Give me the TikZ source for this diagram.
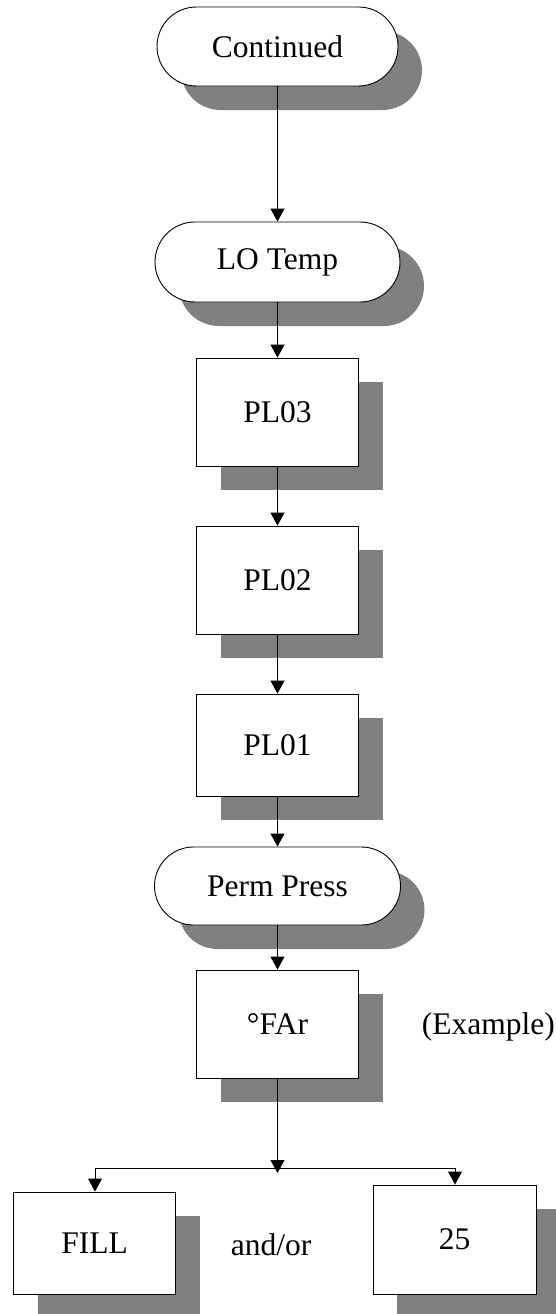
\documentclass[tikz,border=0pt]{standalone}
\usepackage{fontspec}
\setmainfont{Liberation Serif}
\usetikzlibrary{shapes.misc,shadows,arrows.meta}
\definecolor{shadowgray}{HTML}{808080}
\tikzset{
  base/.style={draw=black, line width=0.9pt, fill=white, inner sep=0pt,
    font=\fontsize{31.5}{36}\selectfont,
    general shadow={fill=shadowgray, draw=none, shadow xshift=24pt, shadow yshift=-24pt}},
  term/.style={base, rounded rectangle, minimum height=79pt, minimum width=244pt},
  proc/.style={base, rectangle, minimum width=162pt, minimum height=108pt},
  arr/.style={line width=0.9pt, -{Triangle[width=14pt,length=13pt]}},
  conn/.style={line width=0.9pt},
  lbl/.style={font=\fontsize{31.5}{36}\selectfont, inner sep=0pt}
}
\begin{document}
\begin{tikzpicture}[x=1pt,y=-1pt]
\useasboundingbox (0,0) rectangle (556,1314);
\node[term, minimum width=241pt] (cont) at (277.5,46.5) {Continued};
\node[term, minimum width=245pt, minimum height=80pt] (lo) at (277.5,262) {LO Temp};
\node[proc] (pl3) at (277.5,412) {PL03};
\node[proc] (pl2) at (277.5,580) {PL02};
\node[proc, minimum height=102pt] (pl1) at (277.5,745) {PL01};
\node[term, minimum width=246pt, minimum height=78pt] (perm) at (277.5,886) {Perm Press};
\node[proc] (far) at (277.5,1024) {°FAr};
\node[lbl, anchor=east] (ex) at (555,1027) {(Example)};
\node[proc, minimum height=102pt] (fill) at (94.5,1243) {FILL};
\node[proc, minimum width=163pt, minimum height=109pt] (tf) at (454.5,1239.5) {25};
\node[lbl] (andor) at (271,1245) {and/or};

\coordinate (mid) at (277.5,1173);
\coordinate (bl) at (95,1168);
\coordinate (br) at (455,1168);

\draw[arr] (cont.south) -- (lo.north);
\draw[arr] (lo.south) -- (pl3.north);
\draw[arr] (pl3.south) -- (pl2.north);
\draw[arr] (pl2.south) -- (pl1.north);
\draw[arr] (pl1.south) -- (perm.north);
\draw[arr] (perm.south) -- (far.north);
\draw[arr] (far.south) -- (mid);
\draw[conn] (bl) -- (br);
\draw[arr] (bl) -- (bl |- fill.north);
\draw[arr] (br) -- (br |- tf.north);
\end{tikzpicture}
\end{document}
